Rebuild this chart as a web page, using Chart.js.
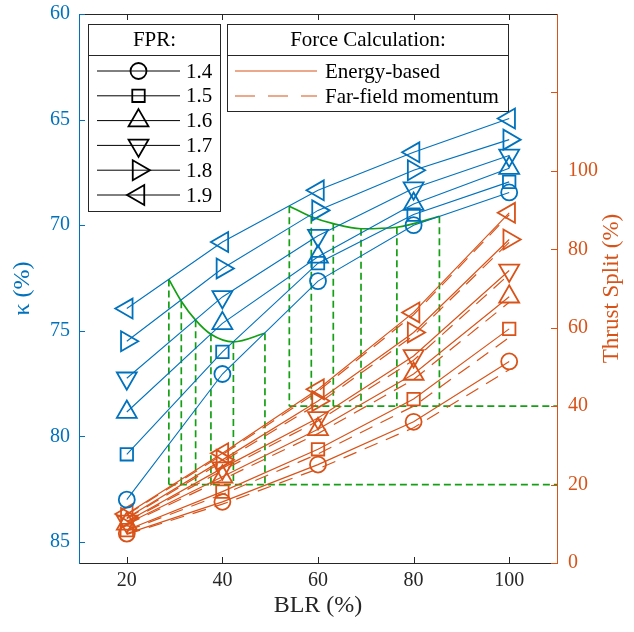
<!DOCTYPE html>
<html>
<head>
<meta charset="utf-8">
<script src="https://cdn.jsdelivr.net/npm/chart.js@4.4.0/dist/chart.umd.min.js"></script>
<style>
  body { margin: 0; background: #fff; }
</style>
</head>
<body>
<canvas id="myChart" width="634" height="632"></canvas>
<script>
//x : BLR (%)
const blr = [20, 40, 60, 80, 100];
const fprLabels = ['1.4', '1.5', '1.6', '1.7', '1.8', '1.9'];

//kappa (%) - left axis
const kappa14 = [83.0, 77.05, 72.65, 70.0, 68.45];
const kappa15 = [80.85, 76.0, 71.8, 69.5, 67.95];
const kappa16 = [78.85, 74.65, 71.5, 69.0, 67.3];
const kappa17 = [77.25, 73.4, 70.5, 68.25, 66.7];
const kappa18 = [75.5, 72.05, 69.3, 67.4, 65.95];
const kappa19 = [73.95, 70.8, 68.35, 66.55, 64.95];

//thrust split (%) - energy-based
const energy14 = [7.5, 15.6, 25.1, 36.0, 51.4];
const energy15 = [8.4, 18.2, 29.0, 41.8, 59.7];
const energy16 = [10.0, 22.0, 34.1, 48.2, 67.9];
const energy17 = [10.6, 24.2, 37.0, 52.8, 74.6];
const energy18 = [11.5, 26.3, 41.3, 58.8, 82.5];
const energy19 = [12.5, 28.0, 44.3, 63.9, 89.3];

//thrust split (%) - far-field momentum
const farfield14 = [7.3, 15.0, 24.0, 34.5, 49.3];
const farfield15 = [8.2, 17.5, 27.8, 40.0, 57.5];
const farfield16 = [9.8, 21.3, 33.0, 46.8, 66.5];
const farfield17 = [10.4, 23.6, 36.2, 51.7, 73.6];
const farfield18 = [11.3, 25.8, 40.6, 58.0, 81.8];
const farfield19 = [12.3, 27.6, 43.8, 63.3, 88.8];

//green : thrust split 20% / 40% crossings
const cross20Blr = [28.8, 31.4, 34.4, 37.6, 42.3, 48.9];
const cross20Kappa = [72.57, 73.6, 74.5, 75.17, 75.53, 75.12];
const cross40Blr = [54.0, 58.6, 63.2, 69.0, 76.5, 85.4];
const cross40Kappa = [69.1, 69.6, 69.93, 70.17, 70.1, 69.58];

//ticks
const blrTicks = [20, 40, 60, 80, 100];
const kappaTicks = [60, 65, 70, 75, 80, 85];
const splitTicks = [0, 20, 40, 60, 80, 100, 120];
const splitLabelMax = 100;

const kappaSeries = [kappa14, kappa15, kappa16, kappa17, kappa18, kappa19];
const energySeries = [energy14, energy15, energy16, energy17, energy18, energy19];
const farfieldSeries = [farfield14, farfield15, farfield16, farfield17, farfield18, farfield19];

const BLUE = '#0072BD';
const ORANGE = '#D95319';
const GREEN = '#14A014';
const DARK = '#262626';
const FONT = "'Liberation Serif', 'Times New Roman', serif";

const X_MIN = 10, X_MAX = 110;

//marker per FPR
const markerStyle = ['circle', 'rect', 'triangle', 'triangle', 'triangle', 'triangle'];
const markerRot = [0, 0, 0, 180, 90, 270];
const markerSize = [8, 8.8, 11.5, 11.5, 11.5, 11.5];

const pts = (xs, ys) => xs.map((x, i) => ({x: x, y: ys[i]}));

let datasets = [];

kappaSeries.forEach((s, i) => {
	datasets.push({
		label: 'kappa ' + fprLabels[i],
		data: pts(blr, s),
		yAxisID: 'y',
		borderColor: BLUE,
		borderWidth: 1.1,
		pointStyle: markerStyle[i],
		pointRotation: markerRot[i],
		pointRadius: markerSize[i],
		pointBorderWidth: 1.8,
		pointBorderColor: BLUE,
		pointBackgroundColor: 'rgba(0,0,0,0)',
		tension: 0
	});
});

energySeries.forEach((s, i) => {
	datasets.push({
		label: 'energy ' + fprLabels[i],
		data: pts(blr, s),
		yAxisID: 'y2',
		borderColor: ORANGE,
		borderWidth: 1.2,
		pointStyle: markerStyle[i],
		pointRotation: markerRot[i],
		pointRadius: markerSize[i],
		pointBorderWidth: 1.8,
		pointBorderColor: ORANGE,
		pointBackgroundColor: 'rgba(0,0,0,0)',
		tension: 0
	});
});

farfieldSeries.forEach((s, i) => {
	datasets.push({
		label: 'farfield ' + fprLabels[i],
		data: pts(blr, s),
		yAxisID: 'y2',
		borderColor: ORANGE,
		borderWidth: 1.2,
		borderDash: [14, 9],
		pointRadius: 0,
		tension: 0
	});
});

//green curves (kappa at the crossings)
[[cross20Blr, cross20Kappa], [cross40Blr, cross40Kappa]].forEach(([bx, bk]) => {
	datasets.push({
		label: 'curve',
		data: pts(bx, bk),
		yAxisID: 'y',
		borderColor: GREEN,
		borderWidth: 1.7,
		pointRadius: 0,
		cubicInterpolationMode: 'monotone'
	});
});

//green horizontal dashed lines
[[cross20Blr, 20], [cross40Blr, 40]].forEach(([bx, lev]) => {
	datasets.push({
		label: 'level',
		data: [{x: bx[0], y: lev}, {x: X_MAX, y: lev}],
		yAxisID: 'y2',
		borderColor: GREEN,
		borderWidth: 1.7,
		borderDash: [7, 4],
		pointRadius: 0
	});
});

//vertical dashed drops from curve to level
const dropPlugin = {
	id: 'drops',
	beforeDatasetsDraw(chart) {
		const {ctx, scales: {x, y, y2}} = chart;
		ctx.save();
		ctx.strokeStyle = GREEN;
		ctx.lineWidth = 1.7;
		ctx.setLineDash([7, 4]);
		[[cross20Blr, cross20Kappa, 20], [cross40Blr, cross40Kappa, 40]].forEach(([bx, bk, lev]) => {
			bx.forEach((v, i) => {
				const px = x.getPixelForValue(v);
				ctx.beginPath();
				ctx.moveTo(px, y.getPixelForValue(bk[i]));
				ctx.lineTo(px, y2.getPixelForValue(lev));
				ctx.stroke();
			});
		});
		ctx.restore();
	}
};

//axes box + inward ticks
const framePlugin = {
	id: 'frame',
	afterDatasetsDraw(chart) {
		const {ctx, chartArea: a, scales: {x, y, y2}} = chart;
		const TL = 6;
		ctx.save();
		ctx.lineWidth = 1;
		ctx.setLineDash([]);
		//top & bottom
		ctx.strokeStyle = DARK;
		ctx.beginPath();
		ctx.moveTo(a.left, a.top + 0.5); ctx.lineTo(a.right, a.top + 0.5);
		ctx.moveTo(a.left, a.bottom + 0.5); ctx.lineTo(a.right, a.bottom + 0.5);
		blrTicks.forEach(v => {
			const px = Math.round(x.getPixelForValue(v)) + 0.5;
			ctx.moveTo(px, a.bottom); ctx.lineTo(px, a.bottom - TL);
			ctx.moveTo(px, a.top); ctx.lineTo(px, a.top + TL);
		});
		ctx.stroke();
		//left
		ctx.strokeStyle = BLUE;
		ctx.beginPath();
		ctx.moveTo(a.left + 0.5, a.top); ctx.lineTo(a.left + 0.5, a.bottom + 1);
		kappaTicks.forEach(v => {
			const py = Math.round(y.getPixelForValue(v)) + 0.5;
			ctx.moveTo(a.left, py); ctx.lineTo(a.left + TL, py);
		});
		ctx.stroke();
		//right
		ctx.strokeStyle = ORANGE;
		ctx.beginPath();
		ctx.moveTo(a.right + 0.5, a.top); ctx.lineTo(a.right + 0.5, a.bottom + 1);
		splitTicks.forEach(v => {
			const py = Math.round(y2.getPixelForValue(v)) + 0.5;
			ctx.moveTo(a.right, py); ctx.lineTo(a.right - TL, py);
		});
		ctx.stroke();
		//right title (reads bottom to top)
		ctx.fillStyle = ORANGE;
		ctx.font = '23px ' + FONT;
		ctx.textAlign = 'center';
		ctx.textBaseline = 'middle';
		ctx.translate(612, (a.top + a.bottom) / 2);
		ctx.rotate(-Math.PI / 2);
		ctx.fillText('Thrust Split (%)', 0, 0);
		ctx.restore();
	}
};

function markerPath(ctx, style, rot, r, cx, cy) {
	ctx.beginPath();
	if (style === 'circle') {
		ctx.arc(cx, cy, r, 0, Math.PI * 2);
	} else if (style === 'rect') {
		const s = r * Math.SQRT1_2;
		ctx.rect(cx - s, cy - s, 2 * s, 2 * s);
	} else {
		let ang = rot * Math.PI / 180;
		for (let k = 0; k < 3; k++) {
			ctx.lineTo(cx + Math.sin(ang) * r, cy - Math.cos(ang) * r);
			ang += 2 * Math.PI / 3;
		}
		ctx.closePath();
	}
	ctx.stroke();
}

//two boxed legends
const legendPlugin = {
	id: 'boxLegend',
	afterDraw(chart) {
		const ctx = chart.ctx;
		ctx.save();
		ctx.setLineDash([]);
		//FPR box
		ctx.fillStyle = '#fff';
		ctx.fillRect(88.5, 24.5, 132, 187);
		ctx.strokeStyle = DARK;
		ctx.lineWidth = 1;
		ctx.strokeRect(88.5, 24.5, 132, 187);
		ctx.beginPath(); ctx.moveTo(88.5, 55.5); ctx.lineTo(220.5, 55.5); ctx.stroke();
		ctx.fillStyle = '#000';
		ctx.font = '21px ' + FONT;
		ctx.textAlign = 'center';
		ctx.textBaseline = 'middle';
		ctx.fillText('FPR:', 154.5, 40);
		ctx.textAlign = 'left';
		fprLabels.forEach((lab, i) => {
			const yy = 71 + i * 24.8;
			ctx.strokeStyle = '#000';
			ctx.lineWidth = 1;
			ctx.beginPath(); ctx.moveTo(97, yy); ctx.lineTo(180, yy); ctx.stroke();
			ctx.lineWidth = 1.8;
			markerPath(ctx, markerStyle[i], markerRot[i], markerSize[i], 138.5, yy);
			ctx.fillText(lab, 186, yy + 1);
		});
		//Force Calculation box
		ctx.fillStyle = '#fff';
		ctx.fillRect(227.5, 24.5, 281, 87);
		ctx.strokeStyle = DARK;
		ctx.lineWidth = 1;
		ctx.strokeRect(227.5, 24.5, 281, 87);
		ctx.beginPath(); ctx.moveTo(227.5, 55.5); ctx.lineTo(508.5, 55.5); ctx.stroke();
		ctx.fillStyle = '#000';
		ctx.textAlign = 'center';
		ctx.fillText('Force Calculation:', 368, 40);
		ctx.textAlign = 'left';
		ctx.strokeStyle = ORANGE;
		ctx.lineWidth = 1.2;
		ctx.beginPath(); ctx.moveTo(235, 71); ctx.lineTo(317, 71); ctx.stroke();
		ctx.setLineDash([20, 13]);
		ctx.beginPath(); ctx.moveTo(235, 96); ctx.lineTo(317, 96); ctx.stroke();
		ctx.setLineDash([]);
		ctx.fillText('Energy-based', 325, 72);
		ctx.fillText('Far-field momentum', 325, 97);
		ctx.restore();
	}
};

const ctx = document.getElementById('myChart');

new Chart(ctx, {
	type: 'line',
	data: { datasets: datasets },
	options: {
		responsive: false,
		animation: false,
		events: [],
		layout: { padding: { top: 14, left: 0, right: 0, bottom: 0 } },
		plugins: { legend: { display: false }, tooltip: { enabled: false } },
		scales: {
			x: {
				type: 'linear', min: X_MIN, max: X_MAX,
				afterBuildTicks: s => { s.ticks = blrTicks.map(v => ({value: v})); },
				afterFit: s => { s.height = 69; s.paddingLeft = 0; s.paddingRight = 0; },
				grid: { display: false, drawTicks: false },
				border: { display: false },
				ticks: { color: DARK, font: { family: FONT, size: 20 }, padding: 6, maxRotation: 0 },
				title: { display: true, text: 'BLR (%)', color: DARK, font: { family: FONT, size: 24 }, padding: { top: 0, bottom: 12 } }
			},
			y: {
				type: 'linear', position: 'left', reverse: true, min: 60, max: 86,
				afterBuildTicks: s => { s.ticks = kappaTicks.map(v => ({value: v})); },
				afterFit: s => { s.width = 79; s.paddingTop = 0; s.paddingBottom = 0; },
				grid: { display: false, drawTicks: false },
				border: { display: false },
				ticks: { color: BLUE, font: { family: FONT, size: 20 }, padding: 9 },
				title: { display: true, text: 'κ (%)', color: BLUE, font: { family: FONT, size: 24 }, padding: { top: 8, bottom: 0 } }
			},
			y2: {
				type: 'linear', position: 'right', min: 0, max: 140,
				afterBuildTicks: s => { s.ticks = splitTicks.map(v => ({value: v})); },
				afterFit: s => { s.width = 77; s.paddingTop = 0; s.paddingBottom = 0; },
				grid: { display: false, drawTicks: false },
				border: { display: false },
				ticks: { color: ORANGE, font: { family: FONT, size: 20 }, padding: 11,
					callback: v => v <= splitLabelMax ? v : '' }
			}
		}
	},
	plugins: [dropPlugin, framePlugin, legendPlugin]
});
</script>
</body>
</html>
